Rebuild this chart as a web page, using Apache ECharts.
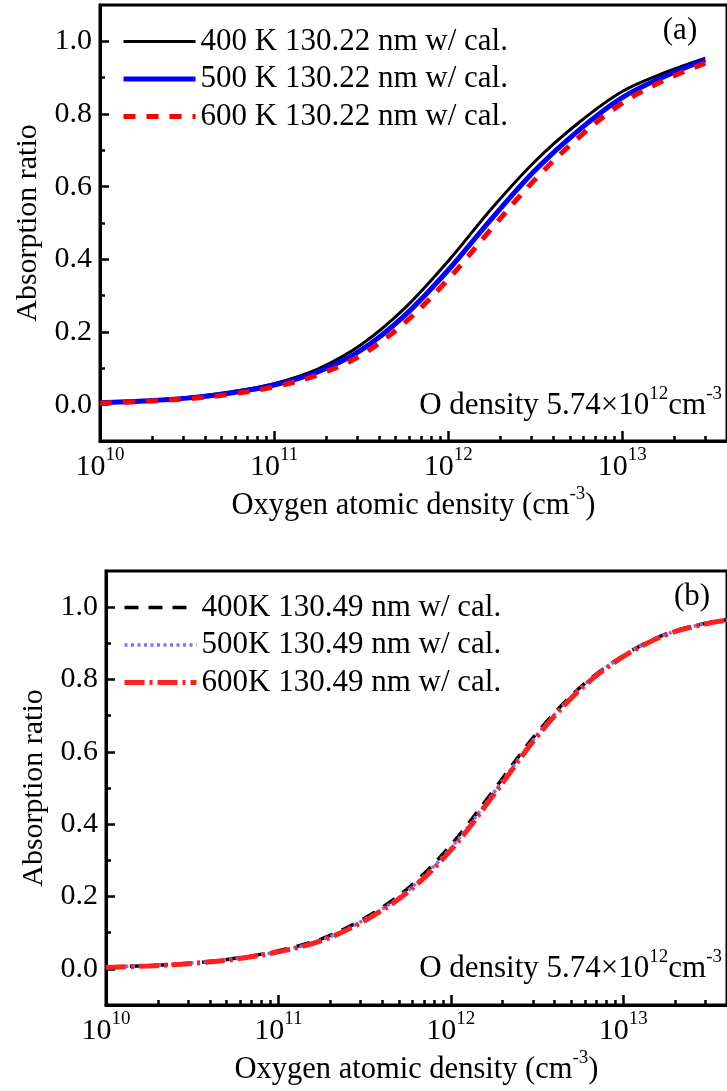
<!DOCTYPE html>
<html>
<head>
<meta charset="utf-8">
<script src="https://cdn.jsdelivr.net/npm/echarts@6/dist/echarts.min.js"></script>
<style>
html,body{margin:0;padding:0;background:#fff;}
#chart{width:727px;height:1091px;}
</style>
</head>
<body>
<div id="chart"></div>
<script>
// ---------- data ----------
const densTop = [1e10, 1.78e10, 3.16e10, 5.62e10, 1e11, 1.78e11, 3.16e11, 5.62e11, 1e12, 1.78e12, 3.16e12, 5.62e12, 1e13, 1.78e13, 3e13];
const topK400 = [0.006, 0.011, 0.020, 0.035, 0.058, 0.098, 0.165, 0.265, 0.395, 0.540, 0.670, 0.776, 0.862, 0.915, 0.954];
const topK500 = [0.005, 0.010, 0.018, 0.032, 0.054, 0.090, 0.150, 0.245, 0.370, 0.512, 0.645, 0.755, 0.845, 0.905, 0.949];
const topK600 = [0.004, 0.009, 0.016, 0.029, 0.049, 0.082, 0.136, 0.225, 0.345, 0.485, 0.620, 0.735, 0.830, 0.895, 0.940];

const densBot = [1e10, 1.78e10, 3.16e10, 5.62e10, 1e11, 1.78e11, 3.16e11, 5.62e11, 1e12, 1.78e12, 3.16e12, 5.62e12, 1e13, 1.78e13, 3.16e13, 4e13];
const botK400 = [0.005, 0.009, 0.016, 0.029, 0.050, 0.083, 0.140, 0.222, 0.342, 0.495, 0.652, 0.778, 0.866, 0.926, 0.958, 0.965];
const botK500 = [0.005, 0.009, 0.016, 0.028, 0.048, 0.080, 0.136, 0.216, 0.334, 0.488, 0.646, 0.775, 0.865, 0.925, 0.957, 0.964];
const botK600 = [0.004, 0.008, 0.015, 0.027, 0.047, 0.078, 0.133, 0.212, 0.328, 0.482, 0.642, 0.772, 0.863, 0.924, 0.956, 0.963];

const namesTop = ['400 K 130.22 nm w/ cal.', '500 K 130.22 nm w/ cal.', '600 K 130.22 nm w/ cal.'];
const namesBot = ['400K 130.49 nm w/ cal.', '500K 130.49 nm w/ cal.', '600K 130.49 nm w/ cal.'];

const xMajorTicks = [1e10, 1e11, 1e12, 1e13];
const xMinorTicks = [];
[1e10, 1e11, 1e12, 1e13].forEach(function (d) { for (let m = 2; m <= 9; m++) xMinorTicks.push(m * d); });
const yMajorTicks = [0, 0.2, 0.4, 0.6, 0.8, 1.0];
const yMinorTicks = [0.1, 0.3, 0.5, 0.7, 0.9];
const xTitle = ['Oxygen atomic density (cm', '-3', ')'];
const yTitle = 'Absorption ratio';
const noteParts = ['O density 5.74\u00d710', '12', 'cm', '-3'];

// ---------- styling ----------
const FONT = 'Liberation Serif';
const TICK_FS = 30;
const TXT_FS = 31;
const SUP_FS = 19;

const stylesTop = [
  { color: '#000000', width: 3, type: 'solid' },
  { color: '#0000ff', width: 5, type: 'solid' },
  { color: '#ff0000', width: 5, type: [12, 11] }
];
const stylesBot = [
  { color: '#000000', width: 3.5, type: [14, 10] },
  { color: '#7575ff', width: 3.5, type: [3, 3.5] },
  { color: '#ff2020', width: 5, type: [20, 5, 3, 5] }
];

function pairs(xs, ys) { return xs.map(function (x, i) { return [x, ys[i]]; }); }

function xAxisPair(gridIndex) {
  return [
    {
      type: 'log', logBase: 10, gridIndex: gridIndex, position: 'bottom',
      min: 1e10, max: 4e13,
      axisLine: { show: true, onZero: false, lineStyle: { color: '#000', width: 3 } },
      axisTick: { show: true, inside: true, length: 10, lineStyle: { color: '#000', width: 2.5 }, customValues: xMajorTicks },
      axisLabel: {
        show: true, margin: 5, customValues: xMajorTicks,
        formatter: function (v) { return '{b|10}{s|' + Math.round(Math.log10(v)) + '}'; },
        rich: {
          b: { fontSize: TICK_FS, fontFamily: FONT, color: '#000', lineHeight: 36, verticalAlign: 'bottom' },
          s: { fontSize: SUP_FS, fontFamily: FONT, color: '#000', lineHeight: 19, verticalAlign: 'top' }
        }
      },
      splitLine: { show: false },
      name: '{t|' + xTitle[0] + '}{s|' + xTitle[1] + '}{t|' + xTitle[2] + '}',
      nameLocation: 'middle', nameGap: 44,
      nameTextStyle: {
        rich: {
          t: { fontSize: 30.5, fontFamily: FONT, color: '#000', lineHeight: 36, verticalAlign: 'bottom' },
          s: { fontSize: SUP_FS, fontFamily: FONT, color: '#000', lineHeight: 19, verticalAlign: 'top' }
        }
      }
    },
    {
      type: 'log', logBase: 10, gridIndex: gridIndex, position: 'bottom',
      min: 1e10, max: 4e13,
      axisLine: { show: false, onZero: false },
      axisTick: { show: true, inside: true, length: 5, lineStyle: { color: '#000', width: 2.5 }, customValues: xMinorTicks },
      axisLabel: { show: false },
      splitLine: { show: false }
    }
  ];
}

function yAxisPair(gridIndex) {
  return [
    {
      type: 'value', gridIndex: gridIndex, position: 'left',
      min: -0.1, max: 1.1,
      axisLine: { show: true, onZero: false, lineStyle: { color: '#000', width: 3 } },
      axisTick: { show: true, inside: true, length: 9, lineStyle: { color: '#000', width: 2.5 }, customValues: yMajorTicks },
      axisLabel: {
        show: true, margin: 8, customValues: yMajorTicks,
        formatter: function (v) { return v.toFixed(1); },
        fontSize: TICK_FS, fontFamily: FONT, color: '#000'
      },
      splitLine: { show: false },
      name: yTitle, nameLocation: 'middle', nameGap: 56,
      nameTextStyle: { fontSize: 30, fontFamily: FONT, color: '#000' }
    },
    {
      type: 'value', gridIndex: gridIndex, position: 'left',
      min: -0.1, max: 1.1,
      axisLine: { show: false, onZero: false },
      axisTick: { show: true, inside: true, length: 5, lineStyle: { color: '#000', width: 2.5 }, customValues: yMinorTicks },
      axisLabel: { show: false },
      splitLine: { show: false }
    }
  ];
}

function lineSeries(name, xi, yi, data, st) {
  return {
    name: name, type: 'line', xAxisIndex: xi, yAxisIndex: yi,
    data: data, showSymbol: false, symbol: 'none', smooth: 0.35,
    lineStyle: { color: st.color, width: st.width, type: st.type, cap: 'butt' },
    itemStyle: { color: st.color },
    emphasis: { disabled: true }, animation: false
  };
}

function legendAt(left, top, names, styles) {
  return {
    orient: 'vertical', left: left, top: top, padding: 0, itemGap: 6.5,
    itemWidth: 72, itemHeight: 14,
    data: names.map(function (n, i) {
      return {
        name: n,
        lineStyle: { width: styles[i].width, type: styles[i].type, color: styles[i].color },
        itemStyle: { opacity: 0 }
      };
    }),
    textStyle: { fontSize: TXT_FS, fontFamily: FONT, color: '#000', lineHeight: 30 },
    selectedMode: false
  };
}

function richNote(x, y) {
  return {
    type: 'text', x: x, y: y, silent: true,
    style: {
      text: '{t|' + noteParts[0] + '}{s|' + noteParts[1] + '}{t|' + noteParts[2] + '}{s|' + noteParts[3] + '}',
      align: 'right', verticalAlign: 'middle',
      rich: {
        t: { fontSize: TXT_FS, fontFamily: FONT, fill: '#000', lineHeight: 36, verticalAlign: 'bottom' },
        s: { fontSize: SUP_FS, fontFamily: FONT, fill: '#000', lineHeight: 19, verticalAlign: 'top' }
      }
    }
  };
}

function panelLabel(text, x, y) {
  return {
    type: 'text', x: x, y: y, silent: true,
    style: { text: text, align: 'center', verticalAlign: 'middle', fontSize: TXT_FS, fontFamily: FONT, fill: '#000' }
  };
}

const option = {
  backgroundColor: '#fff',
  animation: false,
  grid: [
    { left: 100, top: 5, width: 637, height: 436, show: true, borderColor: '#000', borderWidth: 3, backgroundColor: 'transparent' },
    { left: 106, top: 571, width: 633, height: 434, show: true, borderColor: '#000', borderWidth: 3, backgroundColor: 'transparent' }
  ],
  xAxis: xAxisPair(0).concat(xAxisPair(1)),
  yAxis: yAxisPair(0).concat(yAxisPair(1)),
  legend: [
    legendAt(121, 26, namesTop, stylesTop),
    legendAt(122, 592, namesBot, stylesBot)
  ],
  series: [
    lineSeries(namesTop[0], 0, 0, pairs(densTop, topK400), stylesTop[0]),
    lineSeries(namesTop[1], 0, 0, pairs(densTop, topK500), stylesTop[1]),
    lineSeries(namesTop[2], 0, 0, pairs(densTop, topK600), stylesTop[2]),
    lineSeries(namesBot[0], 2, 2, pairs(densBot, botK400), stylesBot[0]),
    lineSeries(namesBot[1], 2, 2, pairs(densBot, botK500), stylesBot[1]),
    lineSeries(namesBot[2], 2, 2, pairs(densBot, botK600), stylesBot[2])
  ],
  graphic: [
    richNote(722, 403),
    richNote(722, 966),
    panelLabel('(a)', 680, 31),
    panelLabel('(b)', 692, 597)
  ]
};

const chart = echarts.init(document.getElementById('chart'), null, { renderer: 'canvas' });
chart.setOption(option);
</script>
</body>
</html>
